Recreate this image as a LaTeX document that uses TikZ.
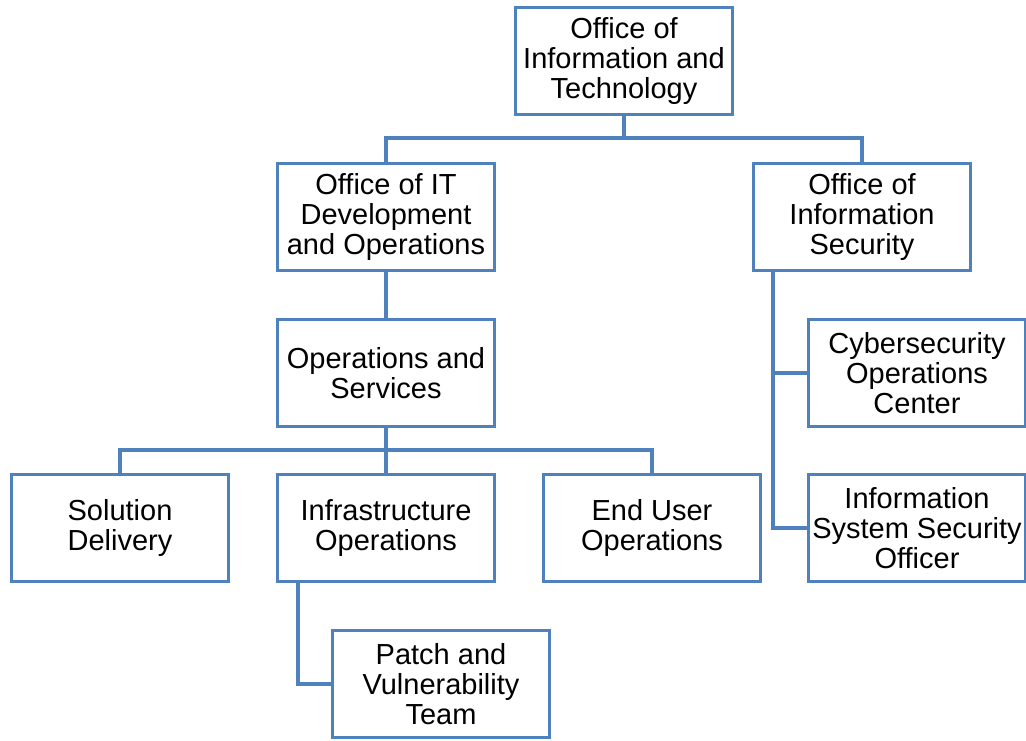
\documentclass[tikz,border=0pt]{standalone}
\usepackage{fontspec}
\setmainfont{Liberation Sans}
\definecolor{orgblue}{HTML}{4F81BD}
\begin{document}
\begin{tikzpicture}[x=1pt,y=-1pt,
  unit/.style={draw=orgblue, line width=3.5pt, fill=white, minimum width=217pt,
    minimum height=107pt, inner sep=0pt, align=center,
    font=\fontsize{29}{30}\selectfont},
  link/.style={draw=orgblue, line width=3.5pt}]
\useasboundingbox (0,0) rectangle (1026,740);
\fill[white] (0,0) rectangle (1026,740);

% boxes
\node[unit] (oit)     at (624,61)  {Office of\\Information and\\Technology};
\node[unit] (itdev)   at (386,217) {Office of IT\\Development\\and Operations};
\node[unit] (infosec) at (862,217) {Office of\\Information\\Security};
\node[unit] (ops)     at (386,373) {Operations and\\Services};
\node[unit] (sol)     at (120,528) {Solution\\Delivery};
\node[unit] (infra)   at (386,528) {Infrastructure\\Operations};
\node[unit] (enduser) at (652,528) {End User\\Operations};
\node[unit] (cyber)   at (917,373) {Cybersecurity\\Operations\\Center};
\node[unit] (isso)    at (917,528) {Information\\System Security\\Officer};
\node[unit] (patch)   at (441,684) {Patch and\\Vulnerability\\Team};

% branch points
\coordinate (bustop) at (624,138);
\coordinate (busops) at (386,450);
\coordinate (secdrop) at (773,272);
\coordinate (infradrop) at (298,583);

% connectors
\draw[link] (oit.south) -- (bustop);
\draw[link] (bustop) -| (itdev.north);
\draw[link] (bustop) -| (infosec.north);
\draw[link] (itdev.south) -- (ops.north);
\draw[link] (ops.south) -- (busops);
\draw[link] (busops) -| (sol.north);
\draw[link] (busops) -- (infra.north);
\draw[link] (busops) -| (enduser.north);
\draw[link] (secdrop) |- (cyber.west);
\draw[link] (secdrop) |- (isso.west);
\draw[link] (infradrop) |- (patch.west);
\end{tikzpicture}
\end{document}
